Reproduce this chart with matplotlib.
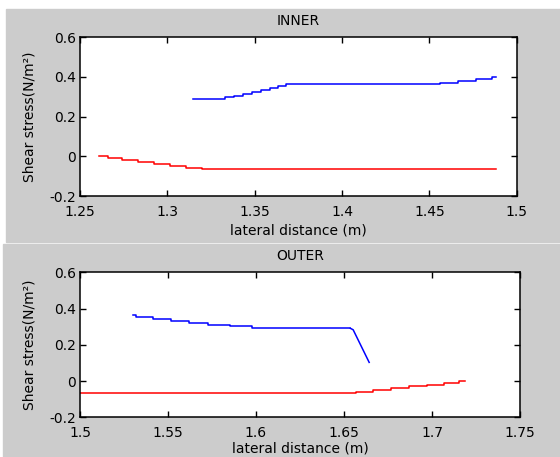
import matplotlib
matplotlib.use("Agg")
import matplotlib.pyplot as plt
from matplotlib.patches import Rectangle
from matplotlib.ticker import FuncFormatter

plt.rcParams['font.family'] = ['DejaVu Sans']
plt.rcParams['axes.unicode_minus'] = False

# INNER panel (step corners)
inner_blue_x = [1.3147, 1.3331, 1.3382, 1.3432, 1.3483, 1.3534, 1.3585, 1.3636,
                1.3677, 1.4562, 1.4664, 1.4766, 1.4857, 1.4882]
inner_blue_y = [0.287, 0.297, 0.306, 0.315, 0.324, 0.333, 0.342, 0.352,
                0.363, 0.372, 0.381, 0.390, 0.398, 0.398]
inner_red_x = [1.2608, 1.2659, 1.2740, 1.2832, 1.2923, 1.3015, 1.3107, 1.3198, 1.4882]
inner_red_y = [0.0, -0.010, -0.020, -0.030, -0.040, -0.050, -0.058, -0.065, -0.065]

# OUTER panel
outer_blue_x = [1.5300, 1.5321, 1.5417, 1.5518, 1.5619, 1.5726, 1.5851, 1.5978, 1.6536]
outer_blue_y = [0.366, 0.355, 0.344, 0.333, 0.322, 0.311, 0.302, 0.291, 0.291]
outer_drop_x = [1.6536, 1.6552, 1.6643]
outer_drop_y = [0.291, 0.283, 0.103]
outer_red_x = [1.5, 1.6567, 1.6667, 1.6768, 1.6869, 1.6970, 1.7071, 1.7151, 1.7188]
outer_red_y = [-0.068, -0.060, -0.050, -0.040, -0.030, -0.020, -0.010, 0.0, 0.0]

y_ticks = [-0.2, 0, 0.2, 0.4, 0.6]
inner_xticks = [1.25, 1.3, 1.35, 1.4, 1.45, 1.5]
outer_xticks = [1.5, 1.55, 1.6, 1.65, 1.7, 1.75]

W, H = 560, 457
fig = plt.figure(figsize=(W / 100, H / 100), dpi=100, facecolor='white')
gray = '#cccccc'
fig.patches.append(Rectangle((6 / W, 1 - 242 / H), 554 / W, 233 / H,
                             transform=fig.transFigure, color=gray, zorder=-5))
fig.patches.append(Rectangle((3 / W, 0), 557 / W, 213 / H,
                             transform=fig.transFigure, color=gray, zorder=-5))

ax1 = fig.add_axes([80 / W, 1 - 196 / H, 436.7 / W, 158.7 / H])
ax2 = fig.add_axes([80 / W, 1 - 417.3 / H, 440 / W, 145 / H])

fs = 10
fmt = FuncFormatter(lambda v, p: '%g' % round(v, 3))


def style(ax, title, xticks, xlabelpad):
    ax.set_facecolor('white')
    ax.set_title(title, fontsize=fs, pad=8.5)
    ax.set_xlim(xticks[0], xticks[-1])
    ax.set_ylim(-0.2, 0.6)
    ax.set_xticks(xticks)
    ax.set_yticks(y_ticks)
    ax.xaxis.set_major_formatter(fmt)
    ax.yaxis.set_major_formatter(fmt)
    ax.tick_params(direction='in', top=True, right=True, length=4, width=1,
                   labelsize=fs)
    ax.tick_params(axis='x', pad=6.5)
    ax.tick_params(axis='y', pad=3)
    for s in ax.spines.values():
        s.set_linewidth(1.1)
    ax.set_xlabel('lateral distance (m)', fontsize=fs, labelpad=xlabelpad)
    ax.set_ylabel('Shear stress(N/m²)', fontsize=fs, labelpad=9)


ax1.plot(inner_blue_x, inner_blue_y, color='blue', lw=1.1, drawstyle='steps-post')
ax1.plot(inner_red_x, inner_red_y, color='red', lw=1.1, drawstyle='steps-post')
style(ax1, 'INNER', inner_xticks, 3.5)

ax2.plot(outer_blue_x, outer_blue_y, color='blue', lw=1.1, drawstyle='steps-post')
ax2.plot(outer_drop_x, outer_drop_y, color='blue', lw=1.1)
ax2.plot(outer_red_x, outer_red_y, color='red', lw=1.1, drawstyle='steps-post')
style(ax2, 'OUTER', outer_xticks, 1.0)

fig.savefig('out.png', dpi=100, facecolor='white')
